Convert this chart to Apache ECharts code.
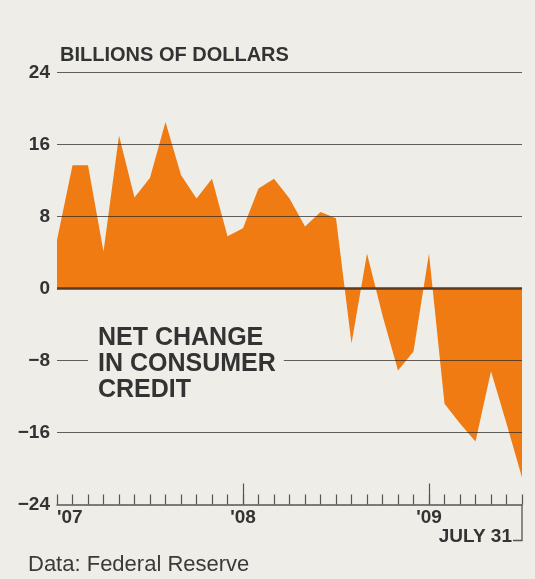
<!DOCTYPE html>
<html>
<head>
<meta charset="utf-8">
<script src="https://cdn.jsdelivr.net/npm/echarts@6/dist/echarts.min.js"></script>
<style>
html,body{margin:0;padding:0;background:#eeede7;}
#c{width:535px;height:579px;}
</style>
</head>
<body>
<div id="c"></div>
<script>
// Months Jan 2007 .. Jul 2009
var categories = [
  '2007-01','2007-02','2007-03','2007-04','2007-05','2007-06','2007-07','2007-08','2007-09','2007-10','2007-11','2007-12',
  '2008-01','2008-02','2008-03','2008-04','2008-05','2008-06','2008-07','2008-08','2008-09','2008-10','2008-11','2008-12',
  '2009-01','2009-02','2009-03','2009-04','2009-05','2009-06','2009-07'
];
// Net change in consumer credit, billions of dollars
var netChange = [
  5.4, 13.7, 13.7, 4.1, 17.0, 10.1, 12.3, 18.5, 12.6, 10.0, 12.2, 5.8,
  6.7, 11.1, 12.2, 10.0, 6.9, 8.5, 7.8, -6.1, 3.9, -3.0, -9.1, -7.0,
  3.9, -12.8, -15.0, -17.0, -9.2, -15.0, -21.0
];
var yTicks = [-24, -16, -8, 0, 8, 16, 24];
var yearLabels = {'2007-01': "'07", '2008-01': "'08", '2009-01': "'09"};
var endLabel = 'JULY 31';
var unitTitle = 'BILLIONS OF DOLLARS';
var seriesTitle = 'NET CHANGE\nIN CONSUMER\nCREDIT';
var sourceNote = 'Data: Federal Reserve';

var BG = '#eeede7';
var ORANGE = '#ef7b12';
var INK = '#333333';
var FONT = '"Liberation Sans", Arial, Helvetica, sans-serif';

var chart = echarts.init(document.getElementById('c'), null, {renderer: 'canvas'});

var gridMarks = yTicks.filter(function (v) { return v !== yTicks[0]; }).map(function (v) {
  return {
    yAxis: v,
    lineStyle: v === 0
      ? {color: '#5b3a22', width: 2.6, type: 'solid'}
      : {color: 'rgba(45,40,38,0.72)', width: 1.2, type: 'solid'}
  };
});

var option = {
  backgroundColor: BG,
  animation: false,
  grid: {left: 57, right: 13, top: 72.5, bottom: 74.5, containLabel: false},
  xAxis: [{
    type: 'category',
    data: categories,
    boundaryGap: false,
    axisLine: {show: true, onZero: false, lineStyle: {color: '#555', width: 1.5}},
    axisTick: {show: true, inside: true, length: 10, interval: 0, lineStyle: {color: '#555', width: 1.2}},
    axisLabel: {
      show: true,
      interval: function (i, v) { return !!yearLabels[v]; },
      formatter: function (v) { return yearLabels[v] || ''; },
      color: INK, fontFamily: FONT, fontWeight: 'bold', fontSize: 19,
      margin: 4,
      alignMinLabel: 'left'
    },
    splitLine: {show: false}
  }, {
    type: 'category',
    data: categories,
    boundaryGap: false,
    position: 'bottom',
    axisLine: {show: false, onZero: false},
    axisTick: {show: true, inside: true, length: 21,
      interval: function (i, v) { return i > 0 && !!yearLabels[v]; },
      lineStyle: {color: '#555', width: 1.2}},
    axisLabel: {show: false},
    splitLine: {show: false}
  }],
  yAxis: {
    type: 'value',
    min: yTicks[0], max: yTicks[yTicks.length - 1], interval: 8,
    axisLine: {show: false},
    axisTick: {show: false},
    splitLine: {show: false},
    axisLabel: {
      color: INK, fontFamily: FONT, fontWeight: 'bold', fontSize: 19, margin: 7,
      formatter: function (v) { return v < 0 ? '\u2212' + Math.abs(v) : String(v); }
    }
  },
  series: [{
    name: 'Net change',
    type: 'line',
    data: netChange,
    symbol: 'none',
    lineStyle: {width: 0},
    areaStyle: {color: ORANGE, opacity: 1},
    z: 2
  }, {
    name: 'gridlines',
    type: 'line',
    data: [],
    z: 10,
    silent: true,
    markLine: {
      silent: true,
      symbol: ['none', 'none'],
      label: {show: false},
      emphasis: {disabled: true},
      data: gridMarks
    }
  }]
};
chart.setOption(option);

function drawExtras() {
  var lastPt = chart.convertToPixel({gridIndex: 0}, [categories.length - 1, yTicks[0]]);
  var firstPt = chart.convertToPixel({gridIndex: 0}, [0, yTicks[yTicks.length - 1]]);
  var m8 = chart.convertToPixel({gridIndex: 0}, [0, -8]);
  chart.setOption({
    graphic: [
      {
        type: 'text', z: 100,
        left: firstPt[0] + 3, top: firstPt[1] - 27,
        style: {text: unitTitle, fill: INK, font: 'bold 20px ' + FONT}
      },
      {
        type: 'text', z: 100,
        x: 88, y: m8[1] - 35,
        style: {
          text: seriesTitle, fill: INK, font: 'bold 25px ' + FONT,
          lineHeight: 26, backgroundColor: BG, padding: [0, 8, 0, 10]
        }
      },
      {
        type: 'text', z: 100,
        x: lastPt[0] - 10, y: lastPt[1] + 23,
        style: {text: endLabel, fill: INK, font: 'bold 19px ' + FONT, align: 'right'}
      },
      {
        type: 'polyline', z: 100,
        shape: {points: [[lastPt[0], lastPt[1]], [lastPt[0], lastPt[1] + 36], [lastPt[0] - 9, lastPt[1] + 36]]},
        style: {stroke: '#555', lineWidth: 1.3, fill: null}
      },
      {
        type: 'text', z: 100,
        x: 28, y: 554,
        style: {text: sourceNote, fill: '#3a3a3a', font: '22px ' + FONT}
      }
    ]
  });
}
drawExtras();
</script>
</body>
</html>
